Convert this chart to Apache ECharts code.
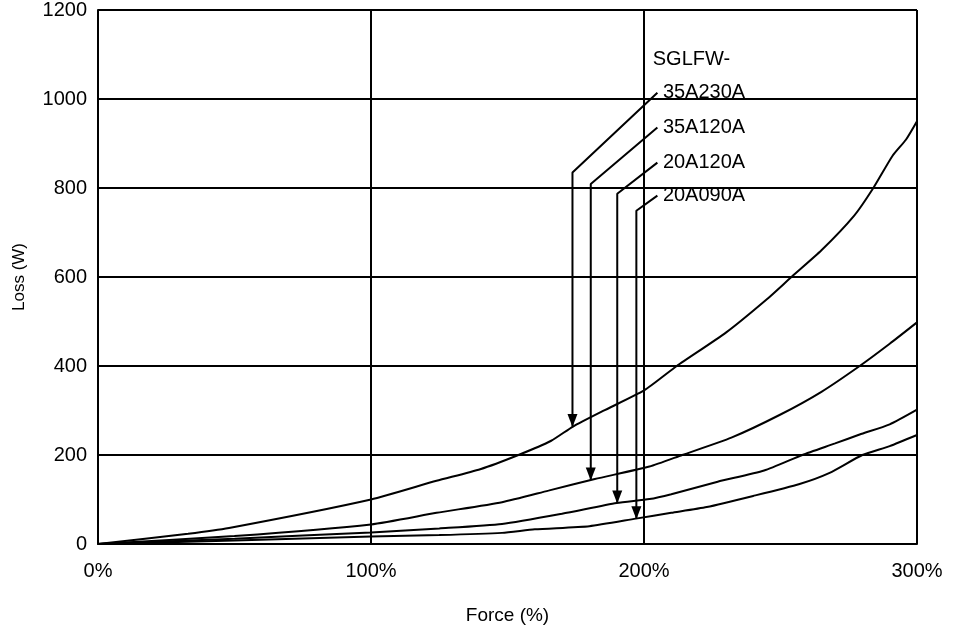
<!DOCTYPE html>
<html>
<head>
<meta charset="utf-8">
<script src="https://cdn.jsdelivr.net/npm/echarts@6/dist/echarts.min.js"></script>
<style>
  html, body { margin: 0; padding: 0; background: #fff; }
  #main { width: 953px; height: 630px; }
</style>
</head>
<body>
<div id="main"></div>
<script>
var myChart = echarts.init(document.getElementById('main'));

// loss curves, [force %, loss W]
var sglfw35A230A = [[0,0],[33,23],[48,36],[100,100],[124,142],[140,168],[154,200],[166,232],[174,264],[185,299],[200,345],[212,400],[230,475],[245,550],[254,600],[265,660],[277,738],[284,800],[291,872],[296,909],[300,950]];
var sglfw35A120A = [[0,0],[50,18],[100,44],[124,70],[148,94],[165,120],[182,146],[202,174],[214,200],[232,239],[250,291],[265,342],[279,400],[290,450],[300,498]];
var sglfw20A120A = [[0,0],[50,12],[100,26],[125,35],[148,45],[170,68],[190,92],[202,101],[210,112],[227,140],[244,165],[258,200],[270,226],[279,246],[290,269],[300,302]];
var sglfw20A090A = [[0,0],[50,8],[100,17],[125,20],[148,25],[160,33],[180,40],[197,57],[210,70],[223,83],[240,108],[257,135],[268,160],[280,200],[290,220],[300,245]];

// leader lines: label end, bend, arrow tip on curve
var names = ['35A230A', '35A120A', '20A120A', '20A090A'];
var leaders = [
  [[204.9,1014],[173.8,835],[173.8,264]],
  [[204.9,936],[180.5,809],[180.5,144]],
  [[204.9,857],[190.2,787],[190.2,92]],
  [[204.9,783],[197.2,749],[197.2,57]]
];
var titlePos = [201.2, 1088];
var titleText = 'SGLFW-';

var font = "'Liberation Sans', Arial, sans-serif";

var series = [];
[sglfw35A230A, sglfw35A120A, sglfw20A120A, sglfw20A090A].forEach(function (d, i) {
  series.push({
    type: 'line',
    name: names[i],
    data: d,
    symbol: 'none',
    smooth: 0.2,
    lineStyle: { color: '#000', width: 2 },
    z: 3
  });
});

leaders.forEach(function (pts) {
  series.push({
    type: 'line',
    data: pts.map(function (p, j) {
      if (j === pts.length - 1) {
        return {
          value: p,
          symbol: 'triangle',
          symbolSize: [10, 13],
          symbolRotate: 180,
          symbolOffset: [0, -6]
        };
      }
      return { value: p, symbol: 'none' };
    }),
    showSymbol: true,
    lineStyle: { color: '#000', width: 2 },
    itemStyle: { color: '#000' },
    z: 4
  });
});

// text labels placed in data coordinates
var textData = [{ value: titlePos, name: titleText }].concat(
  leaders.map(function (pts, i) { return { value: pts[0], name: names[i] }; })
);
series.push({
  type: 'scatter',
  data: textData,
  symbolSize: 1,
  itemStyle: { opacity: 0 },
  label: {
    show: true, position: 'right', distance: 5,
    formatter: '{b}', color: '#000', opacity: 1, fontSize: 20, fontFamily: font
  },
  z: 5
});

myChart.setOption({
  animation: false,
  backgroundColor: '#fff',
  grid: { left: 98, right: 36, top: 10, bottom: 83 },
  xAxis: {
    type: 'value',
    min: 0, max: 300, interval: 100,
    name: 'Force (%)',
    nameLocation: 'middle',
    nameGap: 62,
    nameTextStyle: { color: '#000', fontSize: 19, fontFamily: font },
    axisLine: { show: true, lineStyle: { color: '#000', width: 2 } },
    axisTick: { show: false },
    axisLabel: { formatter: '{value}%', color: '#000', fontSize: 20, fontFamily: font, margin: 17 },
    splitLine: { show: true, lineStyle: { color: '#000', width: 2 } }
  },
  yAxis: {
    type: 'value',
    min: 0, max: 1200, interval: 200,
    name: 'Loss (W)',
    nameLocation: 'middle',
    nameGap: 70,
    nameTextStyle: { color: '#000', fontSize: 17, fontFamily: font },
    axisLine: { show: true, lineStyle: { color: '#000', width: 2 } },
    axisTick: { show: false },
    axisLabel: {
      formatter: function (v) { return String(v); },
      color: '#000', fontSize: 20, fontFamily: font, margin: 11
    },
    splitLine: { show: true, lineStyle: { color: '#000', width: 2 } }
  },
  series: series
});
</script>
</body>
</html>
